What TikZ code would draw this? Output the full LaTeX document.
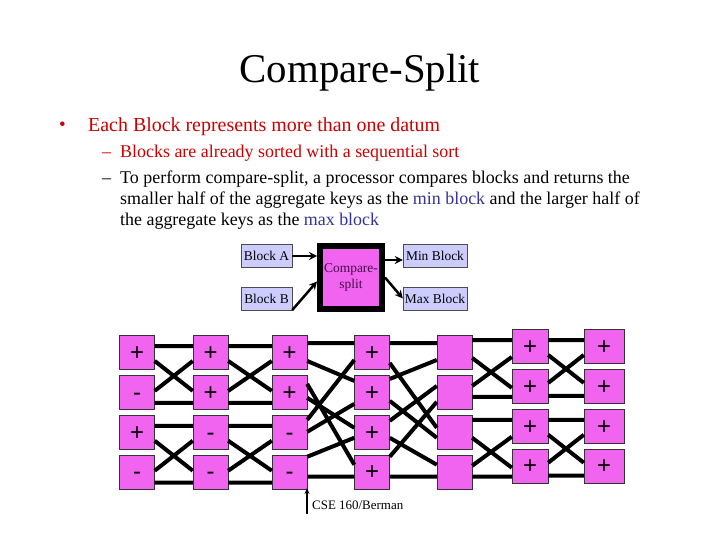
\documentclass[tikz,border=0pt]{standalone}
\usepackage{fontspec}
\setmainfont{Liberation Serif}
\newfontfamily\signfont{Liberation Sans}
\usepackage{xcolor}
\definecolor{slidered}{RGB}{204,0,0}
\definecolor{keyblue}{RGB}{51,51,153}
\definecolor{cellpink}{RGB}{240,100,240}
\definecolor{blocklav}{RGB}{204,204,255}
\definecolor{cmptext}{RGB}{70,10,70}
\usepackage{tikz}
\usetikzlibrary{arrows.meta,positioning}

\begin{document}
\begin{tikzpicture}[x=1bp, y=-1bp,
    txt/.style={anchor=base west, inner sep=0pt,
                font=\fontsize{18}{20}\selectfont},
    blk/.style={rectangle, draw=black!70, fill=blocklav,
                minimum width=51bp, minimum height=23bp, inner sep=0pt,
                font=\fontsize{13.5}{15}\selectfont},
    cmp/.style={rectangle, draw=black, line width=6bp, fill=cellpink,
                minimum width=62bp, minimum height=63bp, inner sep=0pt,
                align=center, text=cmptext,
                font=\fontsize{13.5}{16}\selectfont},
    cell/.style={rectangle, draw=black!80, fill=cellpink,
                 minimum width=35bp, minimum height=34bp, inner sep=0pt,
                 text height=16.6bp, text depth=0pt,
                 font=\signfont\fontsize{24}{24}\selectfont},
    wire/.style={line width=4bp},
    arr/.style={-{Stealth[length=8bp,width=8bp]}, line width=2.5bp},
  ]
  \useasboundingbox (0,0) rectangle (720,540);

  %% title and bullets
  \node[anchor=base, inner sep=0pt, font=\fontsize{41}{46}\selectfont] (title) at (360,83) {Compare-Split};

  \node[txt, font=\fontsize{19}{22}\selectfont, text=slidered] (dot1) at (59,131) {\textbullet};
  \node[txt, font=\fontsize{20}{24}\selectfont, text=slidered] (pt1) at (88,132)
    {Each Block represents more than one datum};
  \node[txt, text=slidered] (dash1) at (102,158) {\textendash};
  \node[txt, text=slidered] (sub1) at (120,158) {Blocks are already sorted with a sequential sort};
  \node[txt] (dash2) at (102,184) {\textendash};
  \node[txt] (sub2a) at (120,184) {To perform compare-split, a processor compares blocks and returns the};
  \node[txt] (sub2b) at (120,205)
    {smaller half of the aggregate keys as the \textcolor{keyblue}{min block} and the larger half of};
  \node[txt] (sub2c) at (120,226) {the aggregate keys as the \textcolor{keyblue}{max block}};

  %% compare-split block
  \node[blk] (blka) at (266.5,256) {Block A};
  \node[blk, below=19bp of blka] (blkb) {Block B};
  \node[cmp] (cmp) at (351,277.5) {Compare-\\split};
  \node[blk, minimum width=64bp] (minb) at (435,256) {Min Block};
  \node[blk, minimum width=64bp, below=19bp of minb] (maxb) {Max Block};

  \draw[arr] (blka.east) -- (blka.east -| cmp.west);
  \draw[arr] (blkb.south east) -- ([yshift=-4pt]cmp.west);
  \draw[arr] ([yshift=-4pt]minb.west -| cmp.east) -- ([yshift=-4pt]minb.west);
  \draw[arr] (cmp.east) -- (maxb.west);

  %% network -- columns a..g
  \node[cell] (a1) at (137,352) {+};
  \node[cell, below=5.5bp of a1] (a2) {-};
  \node[cell, below=5.5bp of a2] (a3) {+};
  \node[cell, below=5.5bp of a3] (a4) {-};

  \node[cell] (b1) at (210.5,352) {+};
  \node[cell, below=5.5bp of b1] (b2) {+};
  \node[cell, below=5.5bp of b2] (b3) {-};
  \node[cell, below=5.5bp of b3] (b4) {-};

  \node[cell] (c1) at (289.5,352) {+};
  \node[cell, below=5.5bp of c1] (c2) {+};
  \node[cell, below=5.5bp of c2] (c3) {-};
  \node[cell, below=5.5bp of c3] (c4) {-};

  \node[cell] (d1) at (372,352) {+};
  \node[cell, below=5.5bp of d1] (d2) {+};
  \node[cell, below=5.5bp of d2] (d3) {+};
  \node[cell, below=5.5bp of d3] (d4) {+};

  \node[cell] (e1) at (454.5,352) {};
  \node[cell, below=5.5bp of e1] (e2) {};
  \node[cell, below=5.5bp of e2] (e3) {};
  \node[cell, below=5.5bp of e3] (e4) {};

  \node[cell, minimum width=36bp] (f1) at (530,346) {+};
  \node[cell, minimum width=36bp, below=5.5bp of f1] (f2) {+};
  \node[cell, minimum width=36bp, below=5.5bp of f2] (f3) {+};
  \node[cell, minimum width=36bp, below=5.5bp of f3] (f4) {+};

  \node[cell, minimum width=40bp] (g1) at (604,346) {+};
  \node[cell, minimum width=40bp, below=5.5bp of g1] (g2) {+};
  \node[cell, minimum width=40bp, below=5.5bp of g2] (g3) {+};
  \node[cell, minimum width=40bp, below=5.5bp of g3] (g4) {+};

  %% a -> b
  \draw[wire] ([yshift=6pt]a1.east) -- ([yshift=6pt]b1.west)
              ([yshift=-9pt]a1.east) -- ([yshift=1pt]b2.west)
              ([yshift=1pt]a2.east) -- ([yshift=-9pt]b1.west)
              ([yshift=-11pt]a2.east) -- ([yshift=-11pt]b2.west);
  \draw[wire] ([yshift=6pt]a3.east) -- ([yshift=6pt]b3.west)
              ([yshift=-9pt]a3.east) -- ([yshift=1pt]b4.west)
              ([yshift=1pt]a4.east) -- ([yshift=-9pt]b3.west)
              ([yshift=-11pt]a4.east) -- ([yshift=-11pt]b4.west);

  %% b -> c
  \draw[wire] ([yshift=6pt]b1.east) -- ([yshift=6pt]c1.west)
              ([yshift=-9pt]b1.east) -- ([yshift=1pt]c2.west)
              ([yshift=1pt]b2.east) -- ([yshift=-9pt]c1.west)
              ([yshift=-11pt]b2.east) -- ([yshift=-11pt]c2.west);
  \draw[wire] ([yshift=6pt]b3.east) -- ([yshift=6pt]c3.west)
              ([yshift=-9pt]b3.east) -- ([yshift=1pt]c4.west)
              ([yshift=1pt]b4.east) -- ([yshift=-9pt]c3.west)
              ([yshift=-11pt]b4.east) -- ([yshift=-11pt]c4.west);

  %% c -> d
  \draw[wire] ([yshift=9pt]c1.east) -- ([yshift=9pt]d1.west)
              ([yshift=-9pt]c1.east) -- ([yshift=11pt]d2.west)
              ([yshift=8pt]c2.east) -- ([yshift=7pt]d4.west)
              ([yshift=-6pt]c2.east) -- ([yshift=4pt]d3.west)
              ([yshift=12pt]c3.east) -- ([yshift=-8pt]d1.west)
              (c3.east) -- ([yshift=-12pt]d2.west)
              ([yshift=15pt]c4.east) -- ([yshift=-6pt]d3.west)
              ([yshift=-5pt]c4.east) -- ([yshift=-5pt]d4.west);

  %% d -> e
  \draw[wire] ([yshift=9pt]d1.east) -- ([yshift=9pt]e1.west)
              ([yshift=-11pt]d1.east) -- ([yshift=4pt]e3.west)
              ([yshift=13pt]d2.east) -- ([yshift=-8pt]e1.west)
              ([yshift=-9pt]d2.east) -- ([yshift=-6pt]e3.west)
              ([yshift=11pt]d3.east) -- ([yshift=6pt]e2.west)
              ([yshift=-6pt]d3.east) -- ([yshift=7pt]e4.west)
              ([yshift=15pt]d4.east) -- ([yshift=-10pt]e2.west)
              ([yshift=-5pt]d4.east) -- ([yshift=-5pt]e4.west);

  %% e -> f
  \draw[wire] ([yshift=12pt]e1.east) -- ([yshift=6pt]f1.west)
              ([yshift=-6pt]e1.east) -- ([yshift=-2pt]f2.west)
              ([yshift=6pt]e2.east) -- ([yshift=-11pt]f1.west)
              ([yshift=-5pt]e2.east) -- ([yshift=-11pt]f2.west);
  \draw[wire] ([yshift=12pt]e3.east) -- ([yshift=6pt]f3.west)
              ([yshift=-6pt]e3.east) -- ([yshift=-2pt]f4.west)
              ([yshift=6pt]e4.east) -- ([yshift=-11pt]f3.west)
              ([yshift=-5pt]e4.east) -- ([yshift=-11pt]f4.west);

  %% f -> g
  \draw[wire] ([yshift=6pt]f1.east) -- ([yshift=6pt]g1.west)
              ([yshift=-9pt]f1.east) -- ([yshift=3pt]g2.west)
              ([yshift=3pt]f2.east) -- ([yshift=-9pt]g1.west)
              ([yshift=-10pt]f2.east) -- ([yshift=-10pt]g2.west);
  \draw[wire] ([yshift=6pt]f3.east) -- ([yshift=6pt]g3.west)
              ([yshift=-9pt]f3.east) -- ([yshift=3pt]g4.west)
              ([yshift=3pt]f4.east) -- ([yshift=-9pt]g3.west)
              ([yshift=-10pt]f4.east) -- ([yshift=-10pt]g4.west);

  %% footer
  \node[anchor=base west, inner sep=0pt, font=\fontsize{13}{15}\selectfont] (foot) at (312,509) {CSE 160/Berman};
  \coordinate (ftail) at (307,514);
  \coordinate (ftip) at (307,488);
  \draw[-{Stealth[length=6bp,width=5bp]}, line width=1.2bp] (ftail) -- (ftip);

\end{tikzpicture}
\end{document}
